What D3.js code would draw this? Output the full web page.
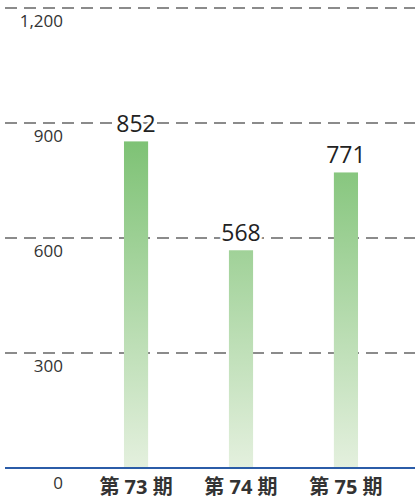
<!DOCTYPE html>
<html><head><meta charset="utf-8">
<script src="https://cdn.jsdelivr.net/npm/d3@7"></script>
<style>body{margin:0;background:#fff}svg{display:block}</style>
</head><body>
<script>
const categories = ["第 73 期", "第 74 期", "第 75 期"];
const values = [852, 568, 771];
const ticks = [0, 300, 600, 900, 1200];

const W = 415, H = 500;
const svg = d3.select("body").append("svg").attr("width", W).attr("height", H)
  .style("font-family", "'Open Sans','Noto Sans','Noto Sans CJK JP',sans-serif");

const y = d3.scaleLinear().domain([0, 1200]).range([468, 8]);
const x = d3.scaleBand().domain(categories).range([82, 400]).paddingInner(0.77).paddingOuter(0.4);

const defs = svg.append("defs");
const g = defs.append("linearGradient").attr("id", "bg").attr("x1", 0).attr("x2", 0)
  .attr("gradientUnits", "userSpaceOnUse").attr("y1", y(852)).attr("y2", y(0));
g.append("stop").attr("offset", 0).attr("stop-color", "#7ec275");
g.append("stop").attr("offset", 1).attr("stop-color", "#e4f0de");

// grid
svg.selectAll("line.grid").data(ticks.filter(t => t > 0)).enter().append("line")
  .attr("x1", 5).attr("x2", W).attr("y1", d => y(d)).attr("y2", d => y(d))
  .attr("stroke", "#666").attr("stroke-width", 1.4).attr("stroke-dasharray", "12,7");

// tick labels
svg.selectAll("text.tick").data(ticks).enter().append("text")
  .attr("x", 63).attr("y", d => y(d) + (d === 0 ? 21 : 19)).attr("text-anchor", "end")
  .attr("font-size", 17).attr("fill", "#333")
  .text(d => d3.format(",")(d));

// bars
svg.selectAll("rect.bar").data(values).enter().append("rect")
  .attr("x", (d, i) => x(categories[i])).attr("width", x.bandwidth())
  .attr("y", d => y(d)).attr("height", d => y(0) - y(d))
  .attr("fill", "url(#bg)");

// value labels
svg.selectAll("text.val").data(values).enter().append("text")
  .attr("x", (d, i) => x(categories[i]) + x.bandwidth() / 2).attr("y", d => y(d) - 9)
  .attr("text-anchor", "middle").attr("font-size", 23).attr("fill", "#222")
  .attr("stroke", "#fff").attr("stroke-width", 5).attr("paint-order", "stroke")
  .text(d => d);

// axis
svg.append("line").attr("x1", 5).attr("x2", W).attr("y1", y(0)).attr("y2", y(0))
  .attr("stroke", "#2b5ca8").attr("stroke-width", 2);

// category labels
svg.selectAll("text.cat").data(categories).enter().append("text")
  .attr("x", d => x(d) + x.bandwidth() / 2).attr("y", 494)
  .attr("text-anchor", "middle").attr("font-size", 20).attr("font-weight", "bold").attr("fill", "#333")
  .text(d => d);
</script>
</body></html>
